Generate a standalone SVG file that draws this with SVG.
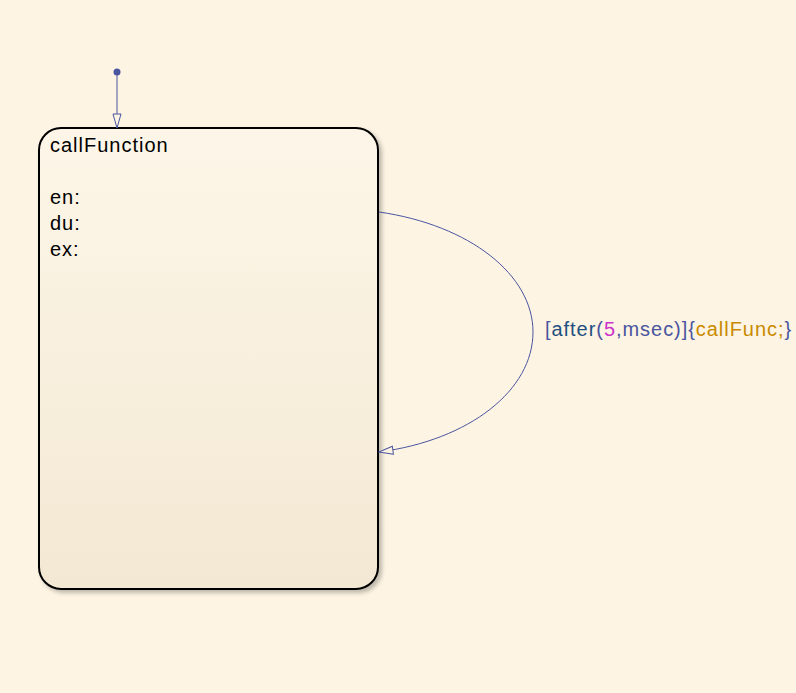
<svg xmlns="http://www.w3.org/2000/svg" width="796" height="693" viewBox="0 0 796 693">
<defs>
<linearGradient id="g" x1="0" y1="0" x2="0" y2="1">
<stop offset="0" stop-color="#fdf6e8"/>
<stop offset="1" stop-color="#f3e8d3"/>
</linearGradient>
<filter id="sh" x="-5%" y="-5%" width="115%" height="115%">
<feGaussianBlur in="SourceAlpha" stdDeviation="2"/>
<feOffset dx="3" dy="3" result="b"/>
<feComponentTransfer><feFuncA type="linear" slope="0.25"/></feComponentTransfer>
<feMerge><feMergeNode/><feMergeNode in="SourceGraphic"/></feMerge>
</filter>
<marker id="arr" viewBox="0 0 16 10" refX="15" refY="5" markerWidth="16" markerHeight="10" markerUnits="userSpaceOnUse" orient="auto">
<path d="M1,1 L15,5 L1,9 Z" fill="#fdf4e3" stroke="#4a55a0" stroke-width="1"/>
</marker>
</defs>
<style>
.t{font-family:"Liberation Sans",Arial,sans-serif;font-size:20px;letter-spacing:1px;fill:#000}
.lb{font-family:"Liberation Sans",Arial,sans-serif;font-size:20px;letter-spacing:0.95px}
.c{fill:none;stroke:#4a55a0;stroke-width:1}
</style>
<rect width="796" height="693" fill="#fdf4e3"/>
<g id="callFunction">
<rect x="39" y="128" width="339" height="461" rx="22" ry="22" fill="url(#g)" stroke="#000" stroke-width="2" filter="url(#sh)"/>
<text class="t" x="50" y="152">callFunction</text>
<text class="t" x="50" y="204">en:</text>
<text class="t" x="50" y="230">du:</text>
<text class="t" x="50" y="256">ex:</text>
</g>
<g id="connectors">
<circle cx="117" cy="72" r="3.5" fill="#4a55a0"/>
<path class="c" d="M117,72 L117,128" marker-end="url(#arr)"/>
<path class="c" d="M379,212 C470,225 533,275 533,332 C533,390 470,440 379,452" marker-end="url(#arr)"/>
<text class="lb" x="545" y="336"><tspan fill="#4a55a0">[</tspan><tspan fill="#1f4f7f">after</tspan><tspan fill="#4a55a0">(</tspan><tspan fill="#cc33cc">5</tspan><tspan fill="#4a55a0">,msec)]{</tspan><tspan fill="#c98a00">callFunc;</tspan><tspan fill="#4a55a0">}</tspan></text>
</g>
</svg>
